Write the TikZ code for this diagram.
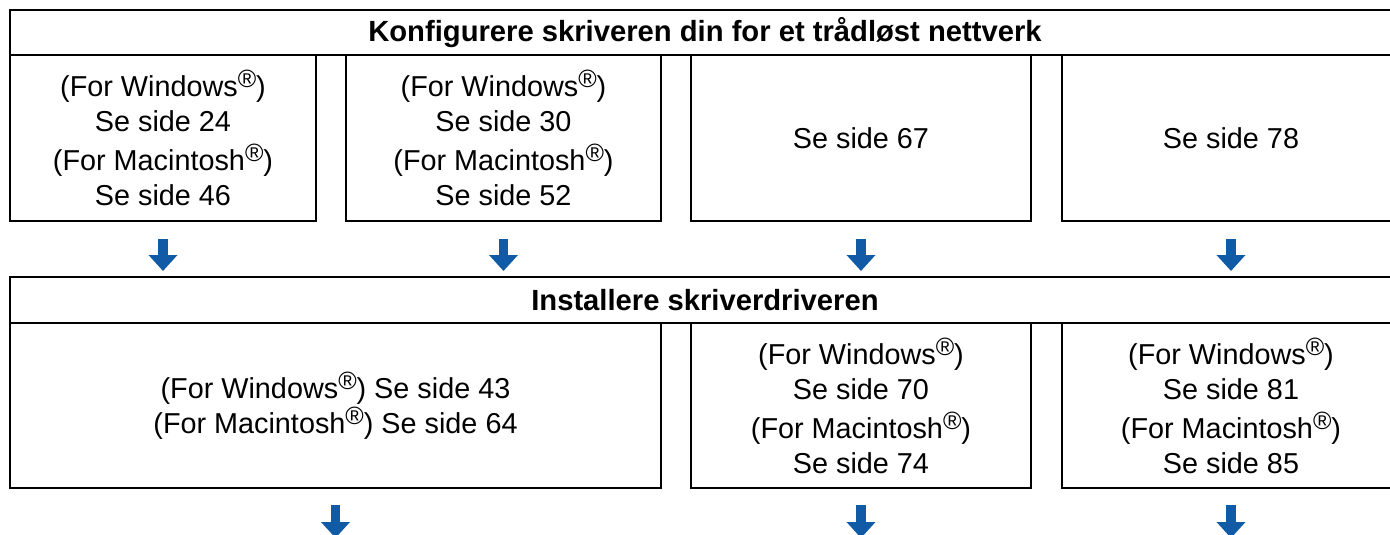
\documentclass[tikz,border=0pt]{standalone}
\usepackage{fontspec}
\setmainfont{Liberation Sans}
\usetikzlibrary{arrows.meta,positioning,calc}
\definecolor{arrowblue}{RGB}{16,90,166}
\newcommand{\reg}{\raisebox{9pt}{\fontsize{25}{25}\selectfont\textregistered}}

\begin{document}
\begin{tikzpicture}[x=1pt,y=-1pt,
    box/.style={draw, line width=2.5pt, inner sep=0pt, outer sep=0pt, align=center,
      font=\fontsize{28.8}{35}\selectfont},
    headbox/.style={box, minimum width=1390pt, font=\fontsize{29.2}{34}\selectfont\bfseries},
    downarrow/.style={arrowblue, line width=9.5pt, -{Triangle[width=28pt,length=16pt]}}]
    \useasboundingbox (0,0) rectangle (1390,535);

    % oppsett
    \node[headbox, minimum height=45pt] (konf) at (705,32.5) {Konfigurere skriveren din for et trådløst nettverk};
    \begin{scope}[every node/.append style={minimum height=166pt}]
    \node[box, minimum width=306pt] (w1) at (163,138) {(For Windows\reg)\\Se side 24\\[4pt](For Macintosh\reg)\\Se side 46};
    \node[box, minimum width=315pt] (w2) at (503.5,138) {(For Windows\reg)\\Se side 30\\[4pt](For Macintosh\reg)\\Se side 52};
    \node[box, minimum width=340pt] (w3) at (861,138) {Se side 67};
    \node[box, minimum width=338pt] (w4) at (1231,138) {Se side 78};
    \end{scope}

    % driver
    \node[headbox, minimum height=46pt] (inst) at (705,300) {Installere skriverdriveren};
    \begin{scope}[every node/.append style={minimum height=165pt}]
    \node[box, minimum width=651pt] (d1) at (335.5,405.5) {(For Windows\reg) Se side 43\\(For Macintosh\reg) Se side 64};
    \node[box, minimum width=340pt] (d2) at (861,405.5) {(For Windows\reg)\\Se side 70\\[4pt](For Macintosh\reg)\\Se side 74};
    \node[box, minimum width=338pt] (d3) at (1231,405.5) {(For Windows\reg)\\Se side 81\\[4pt](For Macintosh\reg)\\Se side 85};
    \end{scope}

    % piler
    \foreach \b in {w1,w2,w3,w4}
        \draw[downarrow] ([yshift=-18pt]\b.south) -- ([yshift=6pt]inst.north -| \b.south);
    \foreach \b in {d1,d2,d3}
        \draw[downarrow] ([yshift=-17pt]\b.south) -- ++(0,33);
\end{tikzpicture}
\end{document}
